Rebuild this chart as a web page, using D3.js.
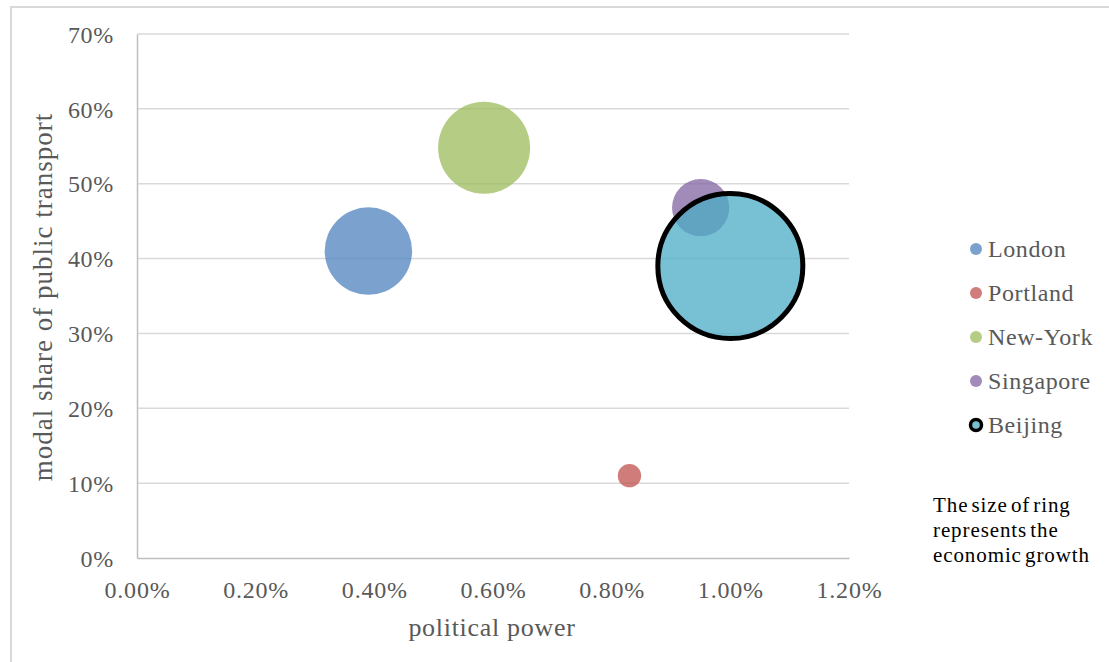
<!DOCTYPE html>
<html>
<head>
<meta charset="utf-8">
<script src="https://cdn.jsdelivr.net/npm/d3@7"></script>
<style>
  html, body { margin: 0; padding: 0; background: #fff; }
  svg { display: block; }
  text { font-family: "Liberation Serif", "DejaVu Serif", serif; }
</style>
</head>
<body>
<svg id="chart" width="1109" height="662"></svg>
<script>
// Cities, their political power (share), modal share of public transport and economic growth
const cities = ["London", "Portland", "New-York", "Singapore", "Beijing"];
const politicalPower = [0.0039, 0.0083, 0.00585, 0.0095, 0.0100];
const modalShare = [0.41, 0.11, 0.548, 0.468, 0.39];
const economicGrowth = [2.8, 0.2, 3.1, 1.2, 7.7];
const colors = ["#4F81BD", "#C0504D", "#9BBB59", "#8064A2", "#4BACC6"];
const xTicks = [0, 0.002, 0.004, 0.006, 0.008, 0.010, 0.012];
const yTicks = [0, 0.1, 0.2, 0.3, 0.4, 0.5, 0.6, 0.7];
const note = ["The size of ring", "represents the", "economic growth"];

const svg = d3.select("#chart");
const W = 1109, H = 662;

// outer chart frame
svg.append("rect")
  .attr("x", 11).attr("y", 7)
  .attr("width", W + 20).attr("height", H + 20)
  .attr("fill", "none").attr("stroke", "#d9d9d9").attr("stroke-width", 2);

const plot = { left: 137, right: 849, top: 34, bottom: 558 };
const x = d3.scaleLinear().domain([0, 0.012]).range([plot.left, plot.right]);
const y = d3.scaleLinear().domain([0, 0.7]).range([plot.bottom, plot.top]);
const r = d3.scaleSqrt().domain([0, d3.max(economicGrowth)]).range([0, 72.5]);

// horizontal gridlines
svg.append("g").selectAll("line")
  .data(yTicks.slice(1))
  .join("line")
  .attr("x1", plot.left).attr("x2", plot.right)
  .attr("y1", d => y(d)).attr("y2", d => y(d))
  .attr("stroke", "#d9d9d9").attr("stroke-width", 1.5);

// y axis
const yAxis = svg.append("g")
  .attr("transform", `translate(${plot.left},0)`)
  .call(d3.axisLeft(y).tickValues(yTicks).tickFormat(d3.format(".0%")).tickSize(0).tickPadding(23));
yAxis.select(".domain").attr("stroke", "#bfbfbf").attr("stroke-width", 1.5);
yAxis.selectAll("text").attr("fill", "#595959").attr("font-size", 24)
  .attr("letter-spacing", 0.7)
  .attr("font-family", "Liberation Serif").attr("dy", "0.34em");

// x axis
const xAxis = svg.append("g")
  .attr("transform", `translate(0,${plot.bottom})`)
  .call(d3.axisBottom(x).tickValues(xTicks).tickFormat(d3.format(".2%")).tickSize(0).tickPadding(23));
xAxis.select(".domain").attr("stroke", "#bfbfbf").attr("stroke-width", 1.5);
xAxis.selectAll("text").attr("fill", "#595959").attr("font-size", 24)
  .attr("letter-spacing", 0.8)
  .attr("font-family", "Liberation Serif");

// axis titles
svg.append("text")
  .attr("transform", `translate(52,${(plot.top + plot.bottom) / 2 + 1}) rotate(-90)`)
  .attr("text-anchor", "middle")
  .attr("fill", "#595959").attr("font-size", 27)
  .attr("letter-spacing", 1.0)
  .text("modal share of public transport");

svg.append("text")
  .attr("x", 492).attr("y", 636)
  .attr("text-anchor", "middle")
  .attr("fill", "#595959").attr("font-size", 26)
  .attr("letter-spacing", 0.7)
  .text("political power");

// bubbles
const data = cities.map((c, i) => ({
  city: c, x: politicalPower[i], y: modalShare[i], size: economicGrowth[i], color: colors[i]
}));

svg.append("g").selectAll("circle")
  .data(data)
  .join("circle")
  .attr("cx", d => x(d.x))
  .attr("cy", d => y(d.y))
  .attr("r", d => r(d.size))
  .attr("fill", d => d.color)
  .attr("fill-opacity", 0.75)
  .attr("stroke", d => d.city === "Beijing" ? "#000" : "none")
  .attr("stroke-width", 5);

// legend
const legend = svg.append("g").selectAll("g")
  .data(data)
  .join("g")
  .attr("transform", (d, i) => `translate(976,${249 + i * 44})`);

legend.append("circle")
  .attr("r", d => d.city === "Beijing" ? 5.5 : 6)
  .attr("fill", d => d.color)
  .attr("fill-opacity", 0.75)
  .attr("stroke", d => d.city === "Beijing" ? "#000" : "none")
  .attr("stroke-width", 3.5);

legend.append("text")
  .attr("x", 12).attr("y", 0).attr("dy", "0.35em")
  .attr("fill", "#595959").attr("font-size", 24)
  .attr("letter-spacing", 0.6)
  .text(d => d.city);

// note on bubble size
svg.append("g").selectAll("text")
  .data(note)
  .join("text")
  .attr("x", 933)
  .attr("y", (d, i) => 512 + i * 25)
  .attr("fill", "#000").attr("font-size", 21)
  .attr("letter-spacing", 0.9)
  .attr("word-spacing", -3)
  .text(d => d);
</script>
</body>
</html>
